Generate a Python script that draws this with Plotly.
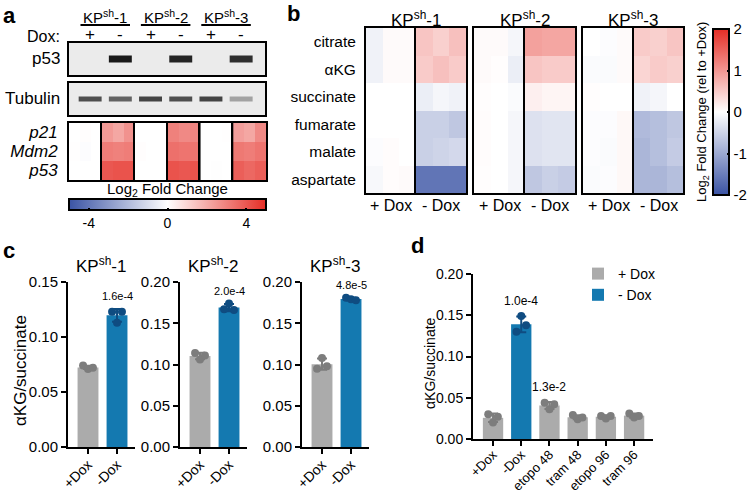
import numpy as np
import plotly.graph_objects as go

W, H = 750, 493
FONT = "Liberation Sans, Arial, Helvetica, sans-serif"
GRAY_BAR = "#ababab"
GRAY_PT = "#7d7d7d"
BLUE_BAR = "#1479b0"
BLUE_PT = "#0f4c81"
CSCALE = [[0, "#3a53a4"], [0.5, "#ffffff"], [1, "#e52d25"]]

# ---------------- panel a data ----------------
a_groups = ["KP<sup>sh</sup>-1", "KP<sup>sh</sup>-2", "KP<sup>sh</sup>-3"]
a_dox = ["+", "-", "+", "-", "+", "-"]
p53_band = [0.0, 1.0, 0.0, 0.95, 0.0, 0.9]
tubulin_band = [0.75, 0.65, 0.8, 0.75, 0.8, 0.35]
a_genes = ["<i>p21</i>", "<i>Mdm2</i>", "<i>p53</i>"]
# log2 fold change, per lane: rows p21, Mdm2, p53 ; 3 replicates each
a_fc = [
    [[0.0, 0.05, 0.0], [0.03, -0.08, 0.0], [0.0, 0.0, 0.0]],
    [[2.4, 2.1, 2.6], [3.1, 3.0, 3.1], [4.0, 4.1, 4.1]],
    [[0.0, 0.0, 0.0], [0.05, 0.0, 0.0], [0.0, 0.0, 0.0]],
    [[3.0, 2.8, 2.9], [3.4, 3.3, 3.3], [4.1, 4.0, 4.1]],
    [[0.0, 0.0, 0.02], [0.0, 0.0, 0.0], [0.0, -0.03, 0.0]],
    [[2.3, 2.1, 2.8], [3.2, 3.1, 3.3], [3.8, 3.6, 3.8]],
]
a_cbar_ticks = [-4, 0, 4]

# ---------------- panel b data ----------------
b_titles = ["KP<sup>sh</sup>-1", "KP<sup>sh</sup>-2", "KP<sup>sh</sup>-3"]
b_metabolites = ["citrate", "\u03b1KG", "succinate", "fumarate", "malate", "aspartate"]
b_kp1_plus = [[-0.15, 0.05, 0.05], [-0.15, 0.05, 0.05], [0.0, 0.0, 0.0],
              [0.0, 0.0, 0.0], [-0.03, 0.03, 0.0], [-0.08, 0.03, 0.05]]
b_kp1_minus = [[0.55, 0.45, 0.6], [0.5, 0.6, 0.5], [-0.2, -0.1, -0.15],
               [-0.55, -0.55, -0.65], [-0.55, -0.5, -0.45], [-1.6, -1.6, -1.6]]
b_kp2_plus = [[0.05, 0.05, -0.1], [0.05, 0.02, -0.2], [0.02, 0.0, -0.05],
              [0.03, 0.0, -0.1], [0.03, 0.0, -0.1], [0.02, 0.0, -0.1]]
b_kp2_minus = [[0.9, 0.85, 0.85], [0.55, 0.5, 0.5], [0.15, 0.1, 0.1],
               [-0.35, -0.3, -0.3], [-0.35, -0.3, -0.3], [-0.65, -0.55, -0.6]]
b_kp3_plus = [[0.0, -0.03, 0.05], [-0.05, -0.05, 0.05], [0.02, 0.0, 0.0],
              [-0.03, -0.03, 0.07], [-0.03, -0.05, 0.07], [-0.05, -0.03, 0.07]]
b_kp3_minus = [[0.5, 0.45, 0.55], [0.4, 0.5, 0.45], [-0.15, -0.1, 0.0],
               [-0.8, -0.75, -0.65], [-0.85, -0.75, -0.6], [-0.85, -0.85, -0.75]]
b_cols = ["+ Dox", "- Dox"]
b_cbar_ticks = [-2, -1, 0, 1, 2]

# ---------------- panel c data ----------------
c_titles = ["KP<sup>sh</sup>-1", "KP<sup>sh</sup>-2", "KP<sup>sh</sup>-3"]
c_xlabels = ["+Dox", "-Dox"]
c_plus = [[0.074, 0.071, 0.072], [0.114, 0.106, 0.111], [0.095, 0.108, 0.098]]
c_minus = [[0.123, 0.113, 0.123], [0.167, 0.174, 0.166], [0.181, 0.179, 0.178]]
c_pvals = ["1.6e-4", "2.0e-4", "4.8e-5"]
c_ymax = [0.15, 0.20, 0.20]

# ---------------- panel d data ----------------
d_cats = ["+Dox", "-Dox", "etopo 48", "tram 48", "etopo 96", "tram 96"]
d_group = ["+ Dox", "- Dox", "+ Dox", "+ Dox", "+ Dox", "+ Dox"]
d_points = [[0.030, 0.020, 0.027], [0.130, 0.149, 0.138], [0.044, 0.036, 0.042],
            [0.029, 0.024, 0.026], [0.028, 0.025, 0.028], [0.031, 0.026, 0.028]]
d_pvals = [None, "1.0e-4", "1.3e-2", None, None, None]

JIT = [-0.17, 0.0, 0.17]

layout = dict(width=W, height=H, margin=dict(l=0, r=0, t=0, b=0, autoexpand=False),
              paper_bgcolor="white", plot_bgcolor="white", barmode="overlay",
              font=dict(family=FONT, color="black", size=14))
traces, shapes, annotations = [], [], []
n_ax = [0]


def axes(xpx, ypx, xa, ya):
    n_ax[0] += 1
    s = "" if n_ax[0] == 1 else str(n_ax[0])
    xd = dict(domain=[xpx[0] / W, xpx[1] / W], anchor="y" + s, showgrid=False, zeroline=False,
              automargin=False)
    yd = dict(domain=[1 - ypx[1] / H, 1 - ypx[0] / H], anchor="x" + s, showgrid=False, zeroline=False,
              automargin=False)
    xd.update(xa)
    yd.update(ya)
    layout["xaxis" + s] = xd
    layout["yaxis" + s] = yd
    return "x" + s, "y" + s


def txt(x, y, text, size=14, xanchor="center", yanchor="middle", xref="paper", yref="paper", **kw):
    if xref == "paper":
        x = x / W
    if yref == "paper":
        y = 1 - y / H
    annotations.append(dict(x=x, y=y, xref=xref, yref=yref, text=text, showarrow=False,
                             font=dict(size=size), xanchor=xanchor, yanchor=yanchor, **kw))


BOX = dict(showline=True, mirror=True, linecolor="black", linewidth=2, ticks="",
           showticklabels=False)
AX = dict(showline=True, linewidth=2, linecolor="black", ticks="outside", ticklen=5,
          tickwidth=2, tickcolor="black")

# ================= panel a =================
lanes = np.arange(1, 7)
blot_x = None
for label, band, ypx, lw in [("p53", p53_band, (43, 75), 7), ("Tubulin", tubulin_band, (83, 115), 5)]:
    xa, ya = axes((69, 265), ypx, dict(BOX, range=[0.3, 6.79]), dict(BOX, range=[-1, 1]))
    if blot_x is None:
        blot_x = xa
    shapes.append(dict(type="rect", xref=xa + " domain", yref=ya + " domain", x0=0, x1=1, y0=0, y1=1,
                       fillcolor="#ebebeb", line=dict(width=0), layer="below"))
    for lane, v in zip(lanes, band):
        if v <= 0.02:
            continue
        g = int(round(235 - 210 * v))
        traces.append(go.Scatter(x=[lane - 0.38, lane + 0.38], y=[0, 0], xaxis=xa, yaxis=ya,
                                 mode="lines", line=dict(color=f"rgb({g},{g},{g})", width=lw),
                                 showlegend=False, hoverinfo="skip"))
    txt(62, (ypx[0] + ypx[1]) / 2, label, 17, xanchor="right")

for g, name in enumerate(a_groups):
    txt(2 * g + 1.5, 16, name, 15, xref=blot_x)
    shapes.append(dict(type="line", xref=blot_x, yref="paper", x0=2 * g + 1 - 0.32, x1=2 * g + 2 + 0.32,
                       y0=1 - 25 / H, y1=1 - 25 / H, line=dict(color="black", width=2)))
for lane, s in zip(lanes, a_dox):
    txt(lane, 35, s, 17, xref=blot_x)
txt(62, 36, "Dox:", 16, xanchor="right")

lane_w = (266 - 69) / 6
for k in range(6):
    x0 = 69 + k * lane_w
    yextra = dict(BOX, range=[2.5, -0.5])
    if k == 0:
        yextra.update(showticklabels=True, tickvals=[0, 1, 2], ticktext=a_genes,
                      tickfont=dict(size=17), ticklabelstandoff=6)
    xa, ya = axes((x0, x0 + lane_w), (123, 180), dict(BOX, range=[-0.5, 2.5]), yextra)
    traces.append(go.Heatmap(z=a_fc[k], x=[0, 1, 2], y=[0, 1, 2], xaxis=xa, yaxis=ya,
                             coloraxis="coloraxis", hoverinfo="skip"))
txt(167.5, 189, "Log<sub>2</sub> Fold Change", 15)

# ================= panel b =================
b_boxes = [((366, 416), (416, 466)), ((474, 525), (525, 575)), ((583, 634), (634, 683))]
b_data = [(b_kp1_plus, b_kp1_minus), (b_kp2_plus, b_kp2_minus), (b_kp3_plus, b_kp3_minus)]
for g in range(3):
    for j in range(2):
        xpx = b_boxes[g][j]
        yextra = dict(BOX, range=[5.5, -0.5])
        if g == 0 and j == 0:
            yextra.update(showticklabels=True, tickvals=list(range(6)), ticktext=b_metabolites,
                          tickfont=dict(size=15.5), ticklabelstandoff=5)
        xa, ya = axes(xpx, (28, 193), dict(BOX, range=[-0.5, 2.5]), yextra)
        traces.append(go.Heatmap(z=b_data[g][j], x=[0, 1, 2], y=list(range(6)), xaxis=xa, yaxis=ya,
                                 coloraxis="coloraxis2", hoverinfo="skip"))
        txt((xpx[0] + xpx[1]) / 2, 205, b_cols[j], 16)
    txt((b_boxes[g][0][0] + b_boxes[g][1][1]) / 2, 19, b_titles[g], 17)
txt(702, 112, "Log<sub>2</sub> Fold Change (rel to +Dox)", 13, textangle=-90)

layout["coloraxis"] = dict(
    colorscale=CSCALE, cmin=-5, cmax=5,
    colorbar=dict(orientation="h", x=167.5 / W, xanchor="center", len=197 / W, lenmode="fraction",
                  y=1 - 199 / H, yanchor="top", thickness=11, xpad=0, ypad=0,
                  outlinewidth=2, outlinecolor="black", tickvals=a_cbar_ticks,
                  ticktext=[str(t) for t in a_cbar_ticks],
                  ticks="inside", ticklen=3, tickwidth=2,
                  tickcolor="black", tickfont=dict(size=14)))
layout["coloraxis2"] = dict(
    colorscale=CSCALE, cmin=-2, cmax=2,
    colorbar=dict(x=713 / W, xanchor="left", len=(195 - 29) / H, lenmode="fraction",
                  y=1 - 112 / H, yanchor="middle", thickness=16, xpad=0, ypad=0,
                  outlinewidth=2, outlinecolor="black", tickvals=b_cbar_ticks,
                  ticktext=[str(t) for t in b_cbar_ticks],
                  ticks="inside", ticklen=3, tickwidth=2, tickcolor="black",
                  tickfont=dict(size=15)))

# ================= panel c =================
c_axes_x = [68, 180, 302]
for i in range(3):
    ax0 = c_axes_x[i]
    xa, ya = axes((ax0, ax0 + 67), (282, 447),
                  dict(AX, range=[-0.69, 1.62], tickvals=[0, 1], ticktext=c_xlabels, tickangle=-45,
                       tickfont=dict(size=14), ticklabelstandoff=-3),
                  dict(AX, range=[0, c_ymax[i]], tickvals=list(np.arange(0, c_ymax[i] + 1e-9, 0.05)),
                       tickformat=".2f", tickfont=dict(size=15)))
    for j, (pts, bc, pc) in enumerate([(c_plus[i], GRAY_BAR, GRAY_PT), (c_minus[i], BLUE_BAR, BLUE_PT)]):
        m = float(np.mean(pts))
        sd = float(np.std(pts, ddof=1))
        traces.append(go.Bar(x=[j], y=[m], width=0.72, marker=dict(color=bc, line=dict(width=0)),
                             error_y=dict(type="data", array=[sd], color=pc, thickness=2, width=5),
                             xaxis=xa, yaxis=ya, showlegend=False, hoverinfo="skip"))
        traces.append(go.Scatter(x=[j + o for o in JIT], y=pts, mode="markers",
                                 marker=dict(color=pc, size=8), xaxis=xa, yaxis=ya,
                                 showlegend=False, hoverinfo="skip"))
        if j == 1:
            annotations.append(dict(x=1, y=m + sd, xref=xa, yref=ya, text=c_pvals[i], showarrow=False,
                                    font=dict(size=11), yanchor="bottom", yshift=5))
    txt(ax0 + 33, 265, c_titles[i], 17)
txt(20, 371, "\u03b1KG/succinate", 17, textangle=-90)

# ================= panel d =================
xa, ya = axes((473, 653), (274, 439),
              dict(AX, range=[-0.71, 5.67], tickvals=list(range(6)), ticktext=d_cats, tickangle=-45,
                   tickfont=dict(size=13), ticklabelstandoff=-4),
              dict(AX, range=[0, 0.20], tickvals=list(np.arange(0, 0.20 + 1e-9, 0.05)),
                   tickformat=".2f", tickfont=dict(size=14)))
for grp, bc, pc in [("+ Dox", GRAY_BAR, GRAY_PT), ("- Dox", BLUE_BAR, BLUE_PT)]:
    idx = [k for k, gname in enumerate(d_group) if gname == grp]
    means = [float(np.mean(d_points[k])) for k in idx]
    sds = [float(np.std(d_points[k], ddof=1)) for k in idx]
    traces.append(go.Bar(x=idx, y=means, width=0.72, name=grp, marker=dict(color=bc, line=dict(width=0)),
                         error_y=dict(type="data", array=sds, color=pc, thickness=2, width=5),
                         xaxis=xa, yaxis=ya, showlegend=True, hoverinfo="skip"))
    for k in idx:
        traces.append(go.Scatter(x=[k + o for o in JIT], y=d_points[k], mode="markers",
                                 marker=dict(color=pc, size=8), xaxis=xa, yaxis=ya,
                                 showlegend=False, hoverinfo="skip"))
for k, lab in enumerate(d_pvals):
    if lab:
        m = float(np.mean(d_points[k]))
        sd = float(np.std(d_points[k], ddof=1))
        annotations.append(dict(x=k, y=m + sd, xref=xa, yref=ya, text=lab, showarrow=False,
                                font=dict(size=12), yanchor="bottom", yshift=6))
txt(430, 363, "\u03b1KG/succinate", 14, textangle=-90)
layout["legend"] = dict(x=578 / W, y=1 - 258 / H, xanchor="left", yanchor="top",
                        font=dict(size=14), bgcolor="rgba(0,0,0,0)", traceorder="normal")

# ================= panel letters =================
for letter, (lx, ly) in {"a": (9, 15), "b": (293, 13), "c": (9, 250), "d": (417, 246)}.items():
    txt(lx, ly, f"<b>{letter}</b>", 22)

layout["shapes"] = shapes
layout["annotations"] = annotations
fig = go.Figure(data=traces, layout=layout)
fig.write_html("out.html", config={"displayModeBar": False},
               post_script="document.body.style.margin='0';document.body.style.overflow='hidden';")
